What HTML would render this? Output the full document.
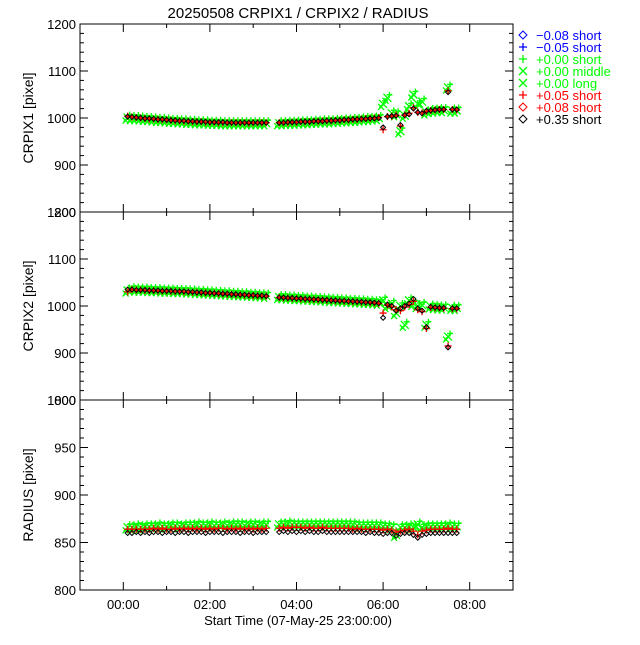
<!DOCTYPE html>
<html><head><meta charset="utf-8"><style>
html,body{margin:0;padding:0;background:#fff;}
svg text{font-family:"Liberation Sans",sans-serif;}
</style></head><body>
<svg id="chart" width="640" height="640" xmlns="http://www.w3.org/2000/svg">
<text x="298" y="18" text-anchor="middle" font-size="15">20250508 CRPIX1 / CRPIX2 / RADIUS</text>
<g id="panels"></g>
<g id="legend"></g>
</svg>
<script>
const times=[0.1,0.2,0.3,0.4,0.5,0.6,0.7,0.8,0.9,1.0,1.1,1.2,1.3,1.4,1.5,1.6,1.7,1.8,1.9,2.0,2.1,2.2,2.3,2.4,2.5,2.6,2.7,2.8,2.9,3.0,3.1,3.2,3.3,
3.6,3.7,3.8,3.9,4.0,4.1,4.2,4.3,4.4,4.5,4.6,4.7,4.8,4.9,5.0,5.1,5.2,5.3,5.4,5.5,5.6,5.7,5.8,5.9,6.0,6.1,6.2,6.3,6.4,6.5,6.6,6.7,6.8,6.9,7.0,7.1,7.2,7.3,7.4,7.5,7.6,7.7];
const xTicks=["00:00","02:00","04:00","06:00","08:00"];
const xTickHours=[0,2,4,6,8];
const crpix1Black=[1003,1002,1001,1000,999,999,998,997,997,996,995,995,994,994,993,993,992,992,992,991,991,991,991,990,990,990,990,990,990,990,990,990,990,
990,990,991,991,991,992,992,992,993,993,993,994,994,995,995,996,996,997,997,998,998,999,999,1000,980,1003,1004,1005,985,1006,1008,1020,1012,1010,1015,1016,1017,1018,1018,1055,1018,1018];
const crpix1Red=[1004,1002,1001,1000,999,998,998,997,996,996,995,994,994,993,993,992,992,992,991,991,991,990,990,990,990,990,990,990,989,990,990,990,990,
990,990,990,991,991,992,992,992,993,993,994,994,994,995,995,996,996,997,997,998,999,999,1000,1001,975,1003,1004,1006,983,1006,1010,1022,1012,1011,1014,1016,1017,1018,1018,1058,1018,1017];
const crpix1Green=[1001,1000,1000,999,998,998,997,996,996,995,994,994,993,993,992,992,991,991,991,990,990,990,989,989,989,989,989,989,989,989,989,989,989,
989,989,990,990,990,991,991,991,992,992,993,993,993,994,994,995,995,996,996,997,998,998,999,1000,1030,1043,1010,1008,972,1005,1025,1050,1030,1035,1012,1015,1016,1017,1017,1065,1016,1016];
const crpix2Black=[1035,1035,1034,1034,1034,1033,1033,1033,1032,1032,1032,1031,1031,1031,1030,1030,1029,1029,1028,1028,1027,1027,1026,1026,1025,1025,1024,1024,1023,1023,1022,1022,1021,
1018,1018,1017,1017,1016,1016,1015,1015,1014,1014,1013,1013,1012,1012,1011,1011,1010,1010,1009,1009,1008,1008,1007,1006,975,1003,1000,990,995,1000,1005,1015,995,990,955,998,997,996,996,912,995,995];
const crpix2Red=[1030,1035,1034,1034,1033,1033,1033,1032,1032,1032,1031,1031,1031,1030,1030,1029,1029,1028,1028,1027,1027,1026,1026,1025,1025,1024,1024,1023,1023,1022,1022,1021,1021,
1018,1017,1017,1016,1016,1015,1015,1014,1014,1013,1013,1012,1012,1011,1011,1010,1010,1009,1009,1008,1008,1007,1006,1005,985,1002,998,992,990,998,1003,1010,992,988,952,997,996,996,995,915,994,994];
const crpix2Green=[1033,1036,1035,1035,1035,1034,1034,1034,1033,1033,1033,1032,1032,1032,1031,1031,1030,1030,1029,1029,1028,1028,1027,1027,1026,1026,1025,1025,1024,1024,1023,1023,1022,
1019,1019,1018,1018,1017,1017,1016,1016,1015,1015,1014,1014,1013,1013,1012,1012,1011,1011,1010,1010,1009,1009,1008,1007,1012,1000,1005,985,1000,960,1012,1005,1000,1002,960,999,998,997,997,935,996,996];
const radiusBlack=[860,860,861,860,861,860,861,861,860,861,861,860,861,861,860,861,861,861,860,861,861,861,860,861,861,861,860,861,861,860,861,861,861,
861,862,861,862,861,862,861,862,861,861,862,861,861,861,861,861,861,861,861,861,860,861,860,860,859,860,860,857,859,860,860,858,855,858,859,860,860,860,860,860,860,860];
const radiusRed=[864,864,864,864,864,864,865,864,865,864,864,865,864,865,864,865,864,865,864,865,864,865,865,864,865,864,865,864,865,864,865,864,865,
865,866,865,866,866,866,865,866,865,865,866,865,865,865,865,865,865,864,865,864,864,864,864,864,863,864,863,861,862,863,864,862,858,862,863,864,864,864,864,865,864,864];
const radiusGreen=[866,866,867,866,867,867,867,868,867,867,868,868,867,868,868,868,869,868,868,869,868,868,869,868,869,869,869,868,869,869,868,869,869,
869,869,870,869,869,869,869,869,869,869,869,869,869,869,869,869,869,869,868,868,868,868,868,868,867,867,866,858,866,866,867,866,869,866,867,867,867,867,867,868,867,867];
const legendLabels=["\u22120.08 short","\u22120.05 short","+0.00 short","+0.00 middle","+0.00 long","+0.05 short","+0.08 short","+0.35 short"];
const legendColors=["#0000ff","#0000ff","#00ff00","#00ff00","#00ff00","#ff0000","#ff0000","#000000"];
const legendSymbols=["diamond","plus","plus","cross","cross","plus","diamond","diamond"];

const NS="http://www.w3.org/2000/svg";
const X0=80,X1=513,T0=-1,T1=9;
function xs(t){return X0+(t-T0)/(T1-T0)*(X1-X0);}
const panels=[
 {name:"crpix1",title:"CRPIX1 [pixel]",top:24,bot:212,min:800,max:1200,major:[800,900,1000,1100,1200],minorStep:20,series:[crpix1Green,crpix1Red,crpix1Black]},
 {name:"crpix2",title:"CRPIX2 [pixel]",top:212,bot:400,min:800,max:1200,major:[800,900,1000,1100,1200],minorStep:20,series:[crpix2Green,crpix2Red,crpix2Black]},
 {name:"radius",title:"RADIUS [pixel]",top:400,bot:590,min:800,max:1000,major:[800,850,900,950,1000],minorStep:10,series:[radiusGreen,radiusRed,radiusBlack]}
];
const root=document.getElementById('panels');
function mk(tag,attrs,parent){const e=document.createElementNS(NS,tag);for(const k in attrs)e.setAttribute(k,attrs[k]);parent.appendChild(e);return e;}
function marker(g,sym,x,y,s,color){
  if(sym==="diamond"){mk('path',{d:`M${x} ${y-s}L${x+s} ${y}L${x} ${y+s}L${x-s} ${y}Z`,fill:'none',stroke:color,'stroke-width':1},g);}
  else if(sym==="plus"){mk('path',{d:`M${x-s} ${y}H${x+s}M${x} ${y-s}V${y+s}`,stroke:color,'stroke-width':1.3},g);}
  else {mk('path',{d:`M${x-s} ${y-s}L${x+s} ${y+s}M${x-s} ${y+s}L${x+s} ${y-s}`,stroke:color,'stroke-width':1.3},g);}
}
panels.forEach((p,pi)=>{
  const g=mk('g',{},root);
  
  
  const ys=v=>p.bot-(v-p.min)/(p.max-p.min)*(p.bot-p.top);
  const frame=mk('rect',{x:X0,y:p.top,width:X1-X0,height:p.bot-p.top,fill:'none',stroke:'#000','stroke-width':1},g);
  
  
  for(let v=p.min;v<=p.max;v+=p.minorStep){
    const y=ys(v);const maj=p.major.includes(v);const L=maj?8:4;
    mk('line',{x1:X0,y1:y,x2:X0+L,y2:y,stroke:'#000'},g);
    mk('line',{x1:X1,y1:y,x2:X1-L,y2:y,stroke:'#000'},g);
  }
  p.major.forEach(v=>{
    const t=mk('text',{x:X0-4,y:ys(v)+5,'text-anchor':'end','font-size':13},g);
    
    
    t.textContent=v;
  });
  for(let h=-1;h<=9;h++){
    const x=xs(h);const maj=xTickHours.includes(h);const L=maj?8:4;
    mk('line',{x1:x,y1:p.bot,x2:x,y2:p.bot-L,stroke:'#000'},g);
    mk('line',{x1:x,y1:p.top,x2:x,y2:p.top+L,stroke:'#000'},g);
  }
  const yt=mk('text',{x:0,y:0,'text-anchor':'middle','font-size':14,transform:`translate(33,${(p.top+p.bot)/2}) rotate(-90)`},g);
  
  
  yt.textContent=p.title;
  const syms=[["cross","#00ff00",4],["plus","#ff0000",3.5],["diamond","#000000",2.5]];
  p.series.forEach((arr,si)=>{
    const sg=mk('g',{},g);
    
    
    arr.forEach((v,i)=>{
      marker(sg,syms[si][0],xs(times[i]),ys(v),syms[si][2],syms[si][1]);
      if(si===0){
        marker(sg,"plus",xs(times[i])+2,ys(v)-3,3,"#00ff00");
        marker(sg,"cross",xs(times[i])-2,ys(v)+3,3,"#00ff00");
      }
    });
  });
  if(pi===2){
    xTicks.forEach((lab,i)=>{
      const t=mk('text',{x:xs(xTickHours[i]),y:p.bot+19,'text-anchor':'middle','font-size':13},g);
      
      
      t.textContent=lab;
    });
    const xt=mk('text',{x:298,y:p.bot+35,'text-anchor':'middle','font-size':13},g);
    
    
    xt.textContent="Start Time (07-May-25 23:00:00)";
  }
});
const lg=document.getElementById('legend');
legendLabels.forEach((lab,i)=>{
  const y=35+i*12;
  const e=mk('g',{},lg);
  
  
  marker(e,legendSymbols[i],523,y,4,legendColors[i]);
  const t=mk('text',{x:536,y:y+5,'font-size':13,fill:legendColors[i]},e);
  t.textContent=lab;
});
</script>
</body></html>
